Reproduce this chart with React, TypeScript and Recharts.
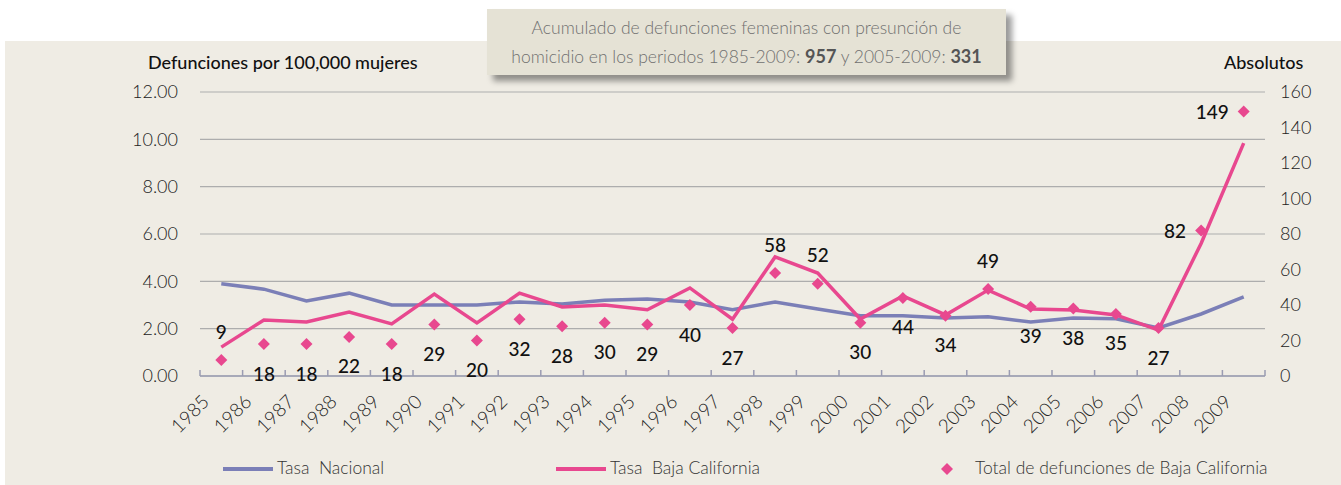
import React from "react";
import { ComposedChart, Line, XAxis, YAxis, CartesianGrid, LabelList } from "recharts";

const YEARS = [
  "1985", "1986", "1987", "1988", "1989", "1990", "1991", "1992", "1993",
  "1994", "1995", "1996", "1997", "1998", "1999", "2000", "2001", "2002",
  "2003", "2004", "2005", "2006", "2007", "2008", "2009",
];

// tasa por 100,000 mujeres (eje izquierdo)
const TASA_NACIONAL = [
  3.9, 3.67, 3.17, 3.5, 3.0, 3.0, 3.0, 3.13, 3.04, 3.2, 3.25, 3.13, 2.8,
  3.13, 2.83, 2.55, 2.55, 2.45, 2.5, 2.28, 2.45, 2.42, 2.03, 2.62, 3.34,
];
const TASA_BC = [
  1.22, 2.37, 2.28, 2.7, 2.2, 3.46, 2.24, 3.5, 2.92, 3.0, 2.8, 3.72, 2.4,
  5.03, 4.35, 2.41, 3.38, 2.58, 3.63, 2.83, 2.79, 2.58, 1.94, 5.6, 9.84,
];
// absolutos (eje derecho)
const TOTAL_BC = [
  9, 18, 18, 22, 18, 29, 20, 32, 28, 30, 29, 40, 27, 58, 52, 30, 44, 34, 49,
  39, 38, 35, 27, 82, 149,
];

const LEFT_TICKS = [0, 2, 4, 6, 8, 10, 12];
const RIGHT_TICKS = [0, 20, 40, 60, 80, 100, 120, 140, 160];

// where each value label sits relative to its diamond
const LABEL_SIDE: Record<string, "above" | "left"> = {
  "1985": "above",
  "1998": "above",
  "1999": "above",
  "2003": "above",
  "2008": "left",
  "2009": "left",
};

const BLUE = "#7b7fb7";
const PINK = "#e8488f";
const GRID = "#adadad";
const AXIS = "#9a9cb2";
const FONT = "Lato, 'Open Sans', sans-serif";

const rows = YEARS.map((year, i) => ({
  x: i + 0.5,
  year,
  nacional: TASA_NACIONAL[i],
  bc: TASA_BC[i],
  total: TOTAL_BC[i],
}));

const xTicks = Array.from({ length: YEARS.length * 2 + 1 }, (_, k) => k / 2);

const XTick = ({ x, y, payload }: any) => {
  const v = payload.value;
  if (Number.isInteger(v)) {
    return <line x1={x} x2={x} y1={y - 6} y2={y} stroke={AXIS} strokeWidth={1.5} />;
  }
  const year = YEARS[Math.floor(v)];
  const ax = x - 11;
  const ay = y + 27;
  return (
    <text
      x={ax}
      y={ay}
      transform={`rotate(-45 ${ax} ${ay})`}
      textAnchor="end"
      fill="#222"
      fontSize={19}
      fontWeight={300}
      fontFamily={FONT}
    >
      {year}
    </text>
  );
};

const Diamond = ({ cx, cy }: any) => {
  if (cx == null || cy == null) return null;
  return (
    <polygon
      points={`${cx},${cy - 6} ${cx + 6},${cy} ${cx},${cy + 6} ${cx - 6},${cy}`}
      fill={PINK}
    />
  );
};

const TotalLabel = ({ x, y, value, index }: any) => {
  const side = LABEL_SIDE[YEARS[index]];
  let tx = x;
  let ty = y + 29;
  let anchor: "middle" | "end" = "middle";
  if (side === "above") ty = y - 29;
  if (side === "left") {
    tx = x - 15;
    ty = y;
    anchor = "end";
  }
  return (
    <text
      x={tx}
      y={ty}
      textAnchor={anchor}
      dominantBaseline="central"
      fill="#111"
      fontSize={19}
      fontWeight={500}
      fontFamily={FONT}
    >
      {value}
    </text>
  );
};

const legendText: React.CSSProperties = {
  position: "absolute",
  top: 457,
  fontSize: 17.5,
  fontWeight: 300,
  color: "#333",
  whiteSpace: "pre",
  lineHeight: "22px",
};

const axisTitle: React.CSSProperties = {
  position: "absolute",
  top: 51,
  fontSize: 18,
  fontWeight: 500,
  color: "#111",
  whiteSpace: "nowrap",
};

export default function App() {
  return (
    <div
      style={{
        position: "absolute",
        left: 0,
        top: 0,
        width: 1341,
        height: 485,
        background: "#fff",
        fontFamily: FONT,
        overflow: "hidden",
      }}
    >
      <div
        style={{
          position: "absolute",
          left: 5,
          top: 41,
          width: 1336,
          height: 444,
          background: "#efece4",
        }}
      />

      <div style={{ position: "absolute", left: 0, top: 0 }}>
        <ComposedChart
          width={1341}
          height={485}
          data={rows}
          margin={{ top: 92, right: 16, bottom: 49, left: 140 }}
        >
          <CartesianGrid yAxisId="left" horizontal vertical={false} stroke={GRID} strokeWidth={1.2} />
          <XAxis
            type="number"
            dataKey="x"
            domain={[0, YEARS.length]}
            ticks={xTicks}
            interval={0}
            height={60}
            tickSize={0}
            tickMargin={0}
            tickLine={false}
            axisLine={{ stroke: AXIS, strokeWidth: 1.5 }}
            tick={<XTick />}
          />
          <YAxis
            yAxisId="left"
            domain={[0, 12]}
            ticks={LEFT_TICKS}
            width={60}
            axisLine={false}
            tickLine={false}
            tickMargin={16}
            tickFormatter={(v: number) => v.toFixed(2)}
            tick={{ fill: "#222", fontSize: 18, fontWeight: 300, fontFamily: FONT }}
          />
          <YAxis
            yAxisId="right"
            orientation="right"
            domain={[0, 160]}
            ticks={RIGHT_TICKS}
            width={60}
            axisLine={false}
            tickLine={false}
            tickMargin={9}
            tick={{ fill: "#222", fontSize: 18, fontWeight: 300, fontFamily: FONT, textAnchor: "start" }}
          />
          <Line
            yAxisId="left"
            dataKey="nacional"
            stroke={BLUE}
            strokeWidth={3.5}
            dot={false}
            activeDot={false}
            type="linear"
            isAnimationActive={false}
          />
          <Line
            yAxisId="left"
            dataKey="bc"
            stroke={PINK}
            strokeWidth={3.5}
            dot={false}
            activeDot={false}
            type="linear"
            isAnimationActive={false}
          />
          <Line
            yAxisId="right"
            dataKey="total"
            stroke="none"
            dot={<Diamond />}
            activeDot={false}
            isAnimationActive={false}
          >
            <LabelList dataKey="total" content={<TotalLabel />} />
          </Line>
        </ComposedChart>
      </div>

      <div style={{ ...axisTitle, left: 148 }}>Defunciones por 100,000 mujeres</div>
      <div style={{ ...axisTitle, left: 1224 }}>Absolutos</div>

      <div
        style={{
          position: "absolute",
          left: 487,
          top: 9,
          width: 519,
          height: 66,
          background: "#e5e2d5",
          boxShadow: "6px 6px 6px rgba(0,0,0,0.4)",
          color: "#707070",
          fontSize: 17.5,
          fontWeight: 300,
          lineHeight: "28px",
          textAlign: "center",
          paddingTop: 5,
          boxSizing: "border-box",
        }}
      >
        <div>Acumulado de defunciones femeninas con presunción de</div>
        <div>
          homicidio en los periodos 1985-2009: <b style={{ fontWeight: 700, color: "#555", fontSize: 18 }}>957</b> y
          2005-2009: <b style={{ fontWeight: 700, color: "#555", fontSize: 18 }}>331</b>
        </div>
      </div>

      <div style={{ position: "absolute", left: 223, top: 467, width: 50, height: 4, background: BLUE }} />
      <div style={{ ...legendText, left: 277 }}>Tasa  Nacional</div>
      <div style={{ position: "absolute", left: 556, top: 467, width: 50, height: 4, background: PINK }} />
      <div style={{ ...legendText, left: 610 }}>Tasa  Baja California</div>
      <svg style={{ position: "absolute", left: 941, top: 463 }} width={12} height={12}>
        <polygon points="6,0 12,6 6,12 0,6" fill={PINK} />
      </svg>
      <div style={{ ...legendText, left: 975 }}>Total de defunciones de Baja California</div>
    </div>
  );
}
